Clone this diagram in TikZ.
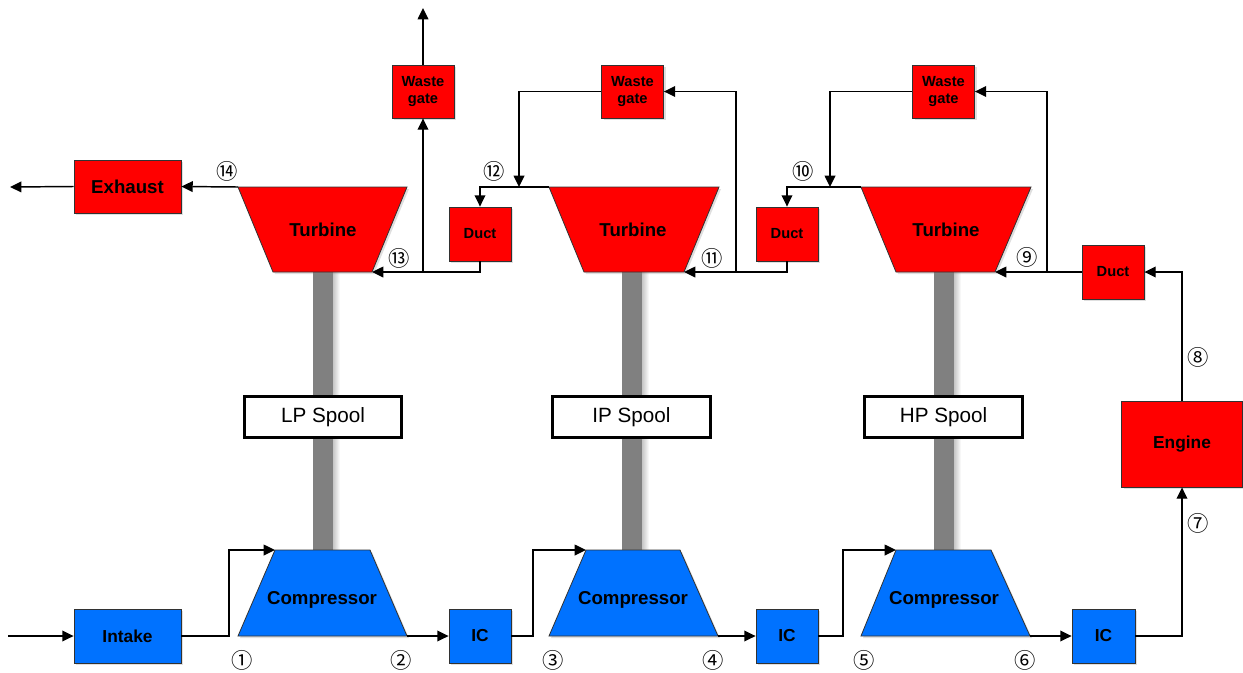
\documentclass[tikz,border=0pt]{standalone}
\usepackage{fontspec}
\setmainfont{Liberation Sans}
\newfontfamily\cjk{Noto Sans CJK SC}
\usetikzlibrary{arrows.meta,shadows,calc}
\definecolor{tred}{RGB}{255,0,0}
\definecolor{tblue}{RGB}{0,114,255}
\definecolor{shaftgray}{RGB}{128,128,128}
\definecolor{edge}{RGB}{50,50,50}
\tikzset{
  conn/.style={line width=1.1pt,draw=black},
  arr/.style={conn,-{Triangle[length=8.5pt,width=8pt]}},
  shad/.style={drop shadow={opacity=0.25,shadow xshift=1.5pt,shadow yshift=-1.5pt}},
  redbox/.style={draw=edge,line width=0.6pt,fill=tred,shad,inner sep=0pt,align=center,font=\bfseries},
  bluebox/.style={draw=edge,line width=0.6pt,fill=tblue,shad,inner sep=0pt,align=center,font=\bfseries},
  spoolbox/.style={draw=black,line width=2.2pt,fill=white,inner sep=0pt,minimum width=118pt,minimum height=30.5pt,font=\fontsize{15.5}{18}\selectfont},
  bigtxt/.style={font=\fontsize{14}{16}\bfseries\selectfont},
  midtxt/.style={font=\fontsize{13}{15}\bfseries\selectfont},
  smalltxt/.style={font=\fontsize{11}{12.5}\bfseries\selectfont},
  num/.style={font=\cjk\fontsize{16}{16}\selectfont,inner sep=0pt},
  redshape/.style={fill=tred,draw=edge,line width=0.6pt,shad},
  blueshape/.style={fill=tblue,draw=edge,line width=0.6pt,shad},
  shaft/.style={fill=shaftgray,draw=none},
  shaftshade/.style={draw=none,left color=shaftgray!45,right color=white}
}
\begin{document}
\begin{tikzpicture}[x=0.75pt,y=-0.75pt]
\useasboundingbox (0,0) rectangle (1243,672);
% shafts
\foreach \cx in {323,632,944}{
  \fill[shaftshade] (\cx+10,272) rectangle (\cx+17,552);
  \fill[shaft] (\cx-10,270) rectangle (\cx+10,552);
}
% turbines
\coordinate (lpTtl) at (238,187); \coordinate (lpTtr) at (407,187);
\coordinate (lpTbl) at (273,272); \coordinate (lpTbr) at (372,272);
\coordinate (ipTtl) at (549,187); \coordinate (ipTtr) at (719,187);
\coordinate (ipTbl) at (584,272); \coordinate (ipTbr) at (684,272);
\coordinate (hpTtl) at (861,187); \coordinate (hpTtr) at (1031,187);
\coordinate (hpTbl) at (896,272); \coordinate (hpTbr) at (995,272);
\path[redshape] (lpTtl) -- (lpTtr) -- (lpTbr) -- (lpTbl) -- cycle;
\path[redshape] (ipTtl) -- (ipTtr) -- (ipTbr) -- (ipTbl) -- cycle;
\path[redshape] (hpTtl) -- (hpTtr) -- (hpTbr) -- (hpTbl) -- cycle;
\node[bigtxt] (lpT) at (323,230) {Turbine};
\node[bigtxt] (ipT) at (633,230) {Turbine};
\node[bigtxt] (hpT) at (946,230) {Turbine};
% compressors
\coordinate (lpCtl) at (275,550); \coordinate (lpCtr) at (370,550);
\coordinate (lpCbl) at (238,636); \coordinate (lpCbr) at (407,636);
\coordinate (ipCtl) at (586,550); \coordinate (ipCtr) at (680,550);
\coordinate (ipCbl) at (549,636); \coordinate (ipCbr) at (718,636);
\coordinate (hpCtl) at (896,550); \coordinate (hpCtr) at (991,550);
\coordinate (hpCbl) at (861,636); \coordinate (hpCbr) at (1030,636);
\path[blueshape] (lpCtl) -- (lpCtr) -- (lpCbr) -- (lpCbl) -- cycle;
\path[blueshape] (ipCtl) -- (ipCtr) -- (ipCbr) -- (ipCbl) -- cycle;
\path[blueshape] (hpCtl) -- (hpCtr) -- (hpCbr) -- (hpCbl) -- cycle;
\node[bigtxt] (lpC) at (322,600) {Compressor};
\node[bigtxt] (ipC) at (633,600) {Compressor};
\node[bigtxt] (hpC) at (944,600) {Compressor};
% spools
\node[spoolbox] (lps) at (323,417) {LP Spool};
\node[spoolbox] (ips) at (631.5,417) {IP Spool};
\node[spoolbox] (hps) at (943.5,417) {HP Spool};
% red boxes
\node[redbox,minimum width=80.25pt,minimum height=39.75pt,bigtxt] (exh) at (127.5,186.5) {Exhaust};
\node[redbox,minimum width=46.5pt,minimum height=39.75pt,smalltxt] (wg1) at (423,91.5) {Waste\\gate};
\node[redbox,minimum width=46.5pt,minimum height=39.75pt,smalltxt] (wg2) at (632.5,91.5) {Waste\\gate};
\node[redbox,minimum width=46.5pt,minimum height=39.75pt,smalltxt] (wg3) at (943.5,91.5) {Waste\\gate};
\node[redbox,minimum width=46.5pt,minimum height=40.5pt,smalltxt] (d1) at (480,234) {Duct};
\node[redbox,minimum width=46.5pt,minimum height=40.5pt,smalltxt] (d2) at (787,234) {Duct};
\node[redbox,minimum width=46.5pt,minimum height=40.5pt,smalltxt] (d3) at (1113,272) {Duct};
\node[redbox,minimum width=90.75pt,minimum height=64.5pt,midtxt] (eng) at (1182,444) {Engine};
% blue boxes
\node[bluebox,minimum width=80.25pt,minimum height=40.5pt,midtxt] (intake) at (127.5,636) {Intake};
\node[bluebox,minimum width=46.5pt,minimum height=40.5pt,midtxt] (ic1) at (480,636) {IC};
\node[bluebox,minimum width=46.5pt,minimum height=40.5pt,midtxt] (ic2) at (787,636) {IC};
\node[bluebox,minimum width=47.25pt,minimum height=40.5pt,midtxt] (ic3) at (1103.5,636) {IC};
% free ends and junctions
\coordinate (exout) at (10,187);
\coordinate (wgout) at (423,8);
\coordinate (inin) at (8,636);
\coordinate (j1) at (423,272);
\coordinate (j2) at (519,187);
\coordinate (j3) at (736,272);
\coordinate (j4) at (830,187);
\coordinate (j5) at (1047,272);
\coordinate (c1) at (229,636);
\coordinate (c2) at (533,636);
\coordinate (c3) at (843,636);
% connectors: turbine side
\draw[arr] (lpTtl) -- (exh.east);
\draw[arr] (exh.west) -- (exout);
\draw[arr] (wg1.north) -- (wgout);
\draw[arr] (d1.south) |- (lpTbr);
\draw[arr] (j1) -- (wg1.south);
\draw[arr] (ipTtl) -| (d1.north);
\draw[arr] (wg2.west) -| (j2);
\draw[arr] (d2.south) |- (ipTbr);
\draw[arr] (j3) |- (wg2.east);
\draw[arr] (hpTtl) -| (d2.north);
\draw[arr] (wg3.west) -| (j4);
\draw[arr] (d3.west) -- (hpTbr);
\draw[arr] (j5) |- (wg3.east);
\draw[arr] (eng.north) |- (d3.east);
% connectors: compressor side
\draw[arr] (inin) -- (intake.west);
\draw[arr] (intake.east) -- (c1) |- (lpCtl);
\draw[arr] (lpCbr) -- (ic1.west);
\draw[arr] (ic1.east) -- (c2) |- (ipCtl);
\draw[arr] (ipCbr) -- (ic2.west);
\draw[arr] (ic2.east) -- (c3) |- (hpCtl);
\draw[arr] (hpCbr) -- (ic3.west);
\draw[arr] (ic3.east) -| (eng.south);
% state numbers
\node[num] (n1) at (242,660) {①};
\node[num] (n2) at (401,660) {②};
\node[num] (n3) at (553,660) {③};
\node[num] (n4) at (713,660) {④};
\node[num] (n5) at (864,660) {⑤};
\node[num] (n6) at (1025,660) {⑥};
\node[num] (n7) at (1198,523) {⑦};
\node[num] (n8) at (1198,357) {⑧};
\node[num] (n9) at (1027,257) {⑨};
\node[num] (n10) at (803,171) {⑩};
\node[num] (n11) at (712,258) {⑪};
\node[num] (n12) at (494,171) {⑫};
\node[num] (n13) at (399,258) {⑬};
\node[num] (n14) at (227,171) {⑭};
\end{tikzpicture}
\end{document}
